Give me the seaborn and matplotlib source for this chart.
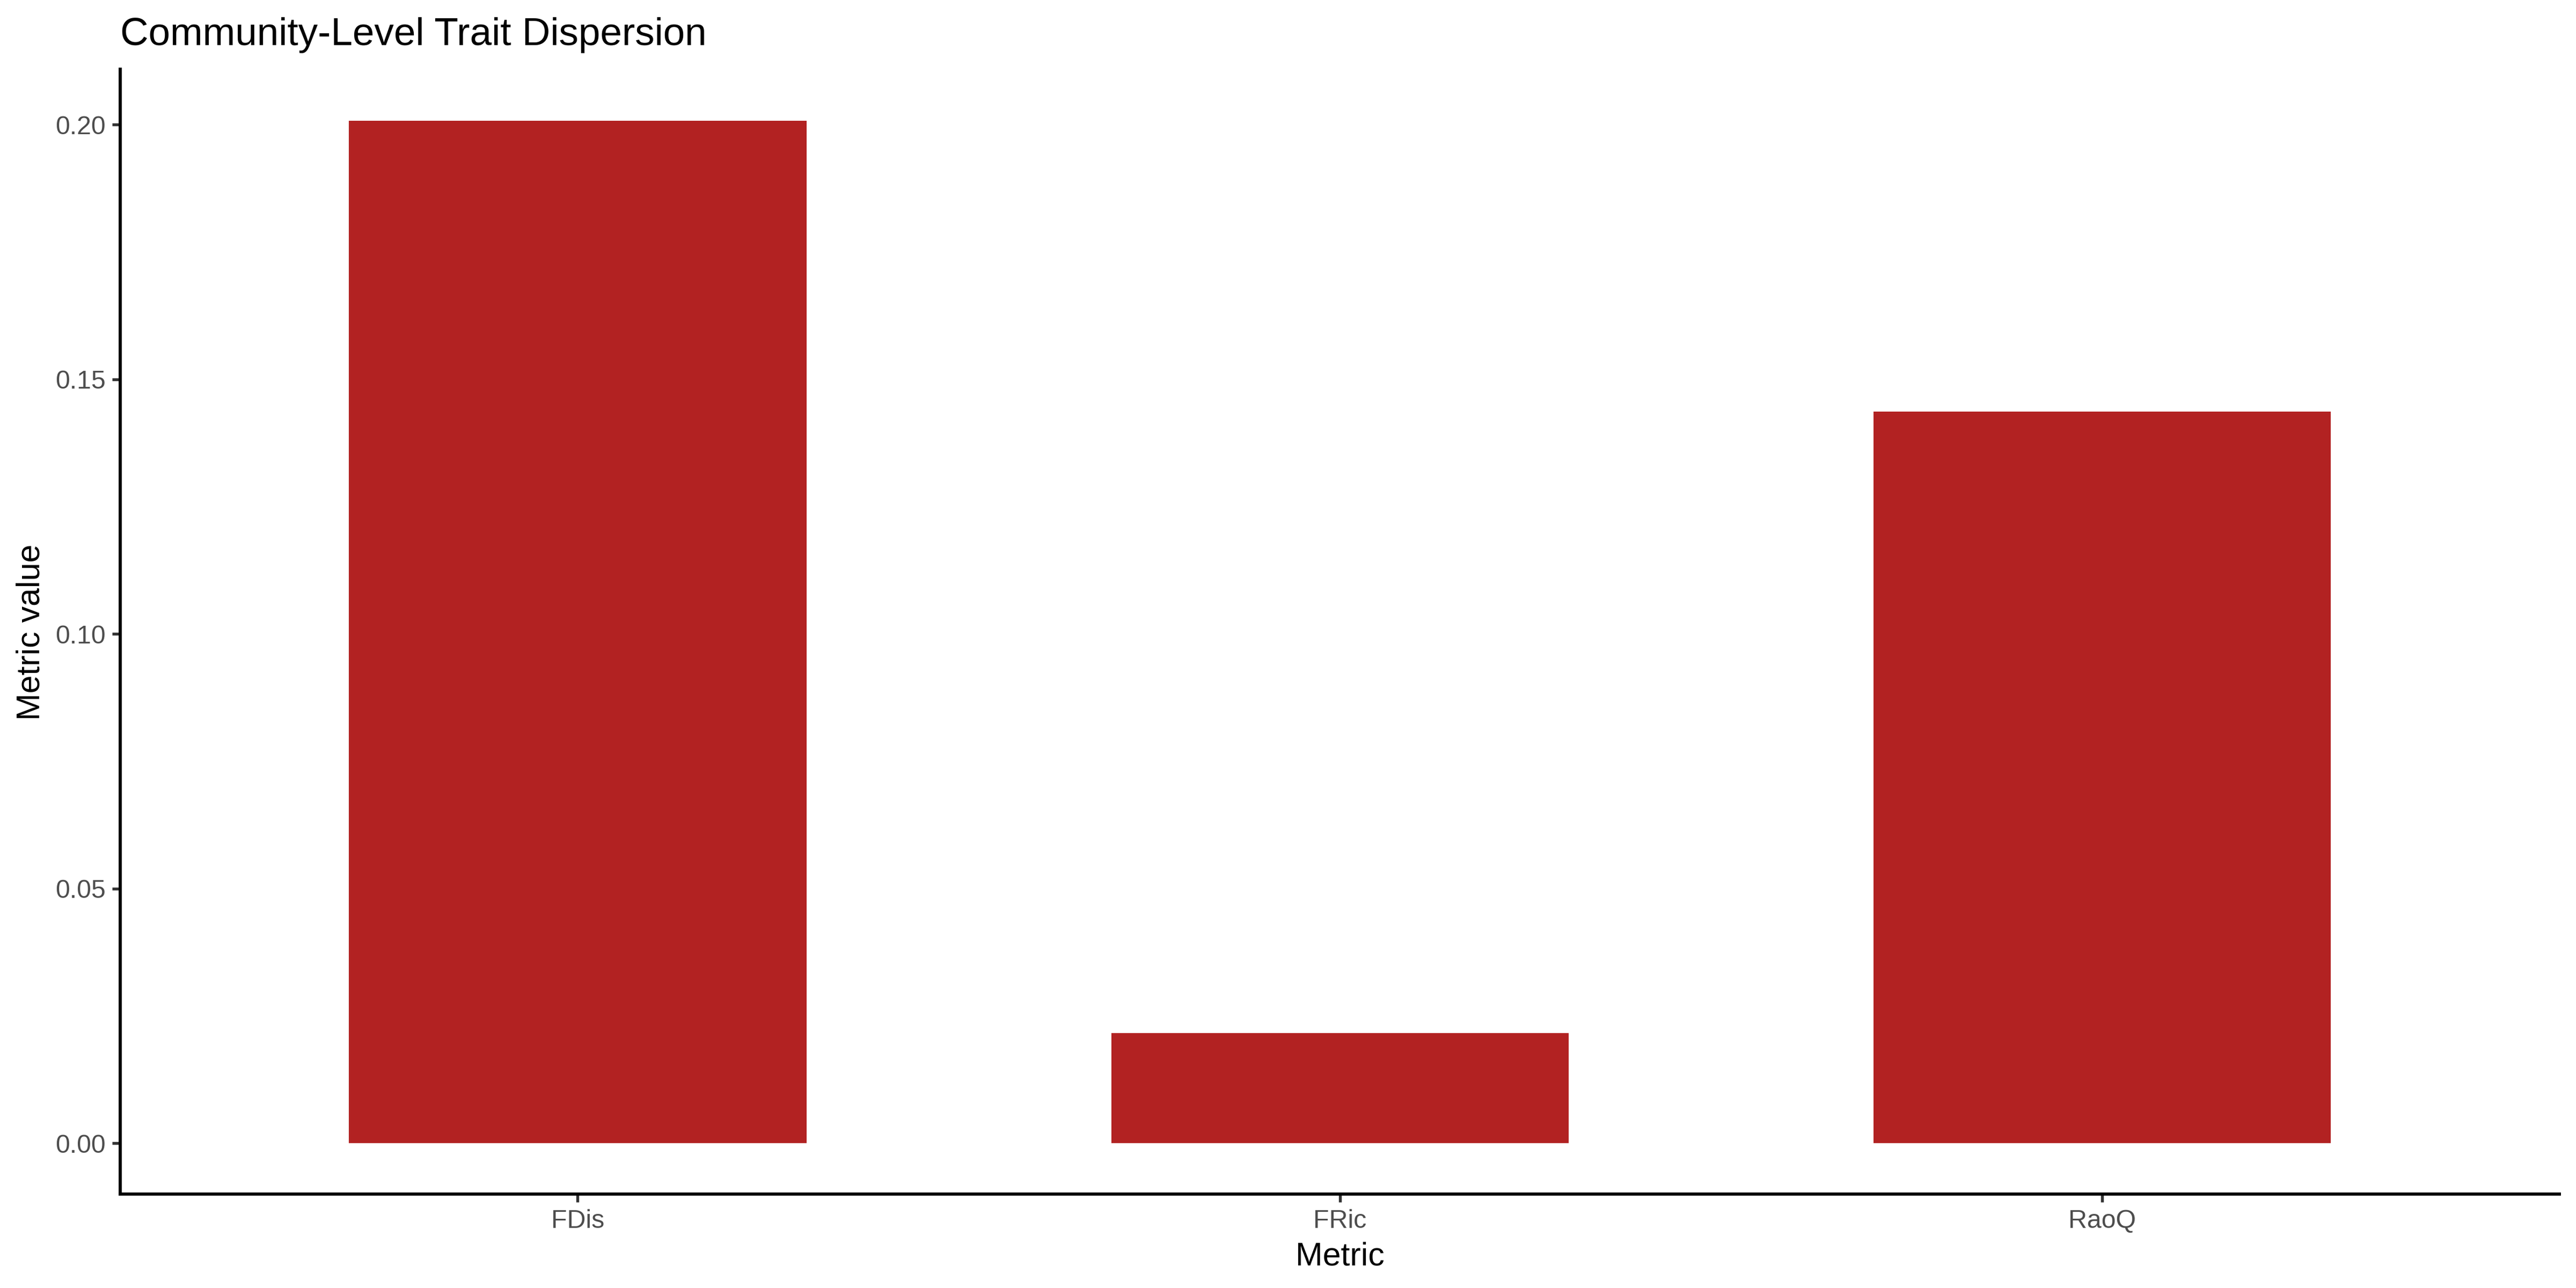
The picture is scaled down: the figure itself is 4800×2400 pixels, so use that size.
import matplotlib
matplotlib.use("Agg")
import matplotlib.pyplot as plt
import seaborn as sns
import pandas as pd
from matplotlib.ticker import FixedLocator, FormatStrFormatter

# ---- data ----
metrics = ["FDis", "FRic", "RaoQ"]
values = [0.2008, 0.02165, 0.1436]
y_ticks = [0.00, 0.05, 0.10, 0.15, 0.20]
title = "Community-Level Trait Dispersion"
x_label = "Metric"
y_label = "Metric value"

df = pd.DataFrame({"Metric": metrics, "Value": values})

sns.set_theme(style="ticks")
plt.rcParams["font.family"] = ["Liberation Sans", "DejaVu Sans"]

fig = plt.figure(figsize=(16, 8), dpi=300)
ax = fig.add_axes([0.04677, 0.07271, 0.99344 - 0.04677, 0.94608 - 0.07271])

sns.barplot(data=df, x="Metric", y="Value", color="#B22222", width=0.6,
            saturation=1, ax=ax, errorbar=None, linewidth=0)

vmax = max(values)
ax.set_xlim(-0.6, len(metrics) - 1 + 0.6)
ax.set_ylim(-0.05 * vmax, vmax * 1.05)
ax.yaxis.set_major_locator(FixedLocator(y_ticks))
ax.yaxis.set_major_formatter(FormatStrFormatter("%.2f"))

sns.despine(ax=ax)
for s in ["left", "bottom"]:
    ax.spines[s].set_linewidth(1.4)
    ax.spines[s].set_color("black")

ax.tick_params(axis="both", length=3.5, width=1.3, color="#333333",
               labelcolor="#4D4D4D", labelsize=11.6)
ax.tick_params(axis="x", pad=3.0)
ax.tick_params(axis="y", pad=3.2)

ax.set_xlabel(x_label, fontsize=14.6, color="black")
ax.set_ylabel(y_label, fontsize=14.6, color="black")
ax.xaxis.set_label_coords(0.5, -0.0418)
ax.yaxis.set_label_coords(-0.0303, 0.5)

ax.set_title(title, loc="left", fontsize=17.5, color="black", pad=11)

ax.set_facecolor("white")
fig.patch.set_facecolor("white")
ax.grid(False)

fig.savefig("out.png", dpi=300, facecolor="white")
